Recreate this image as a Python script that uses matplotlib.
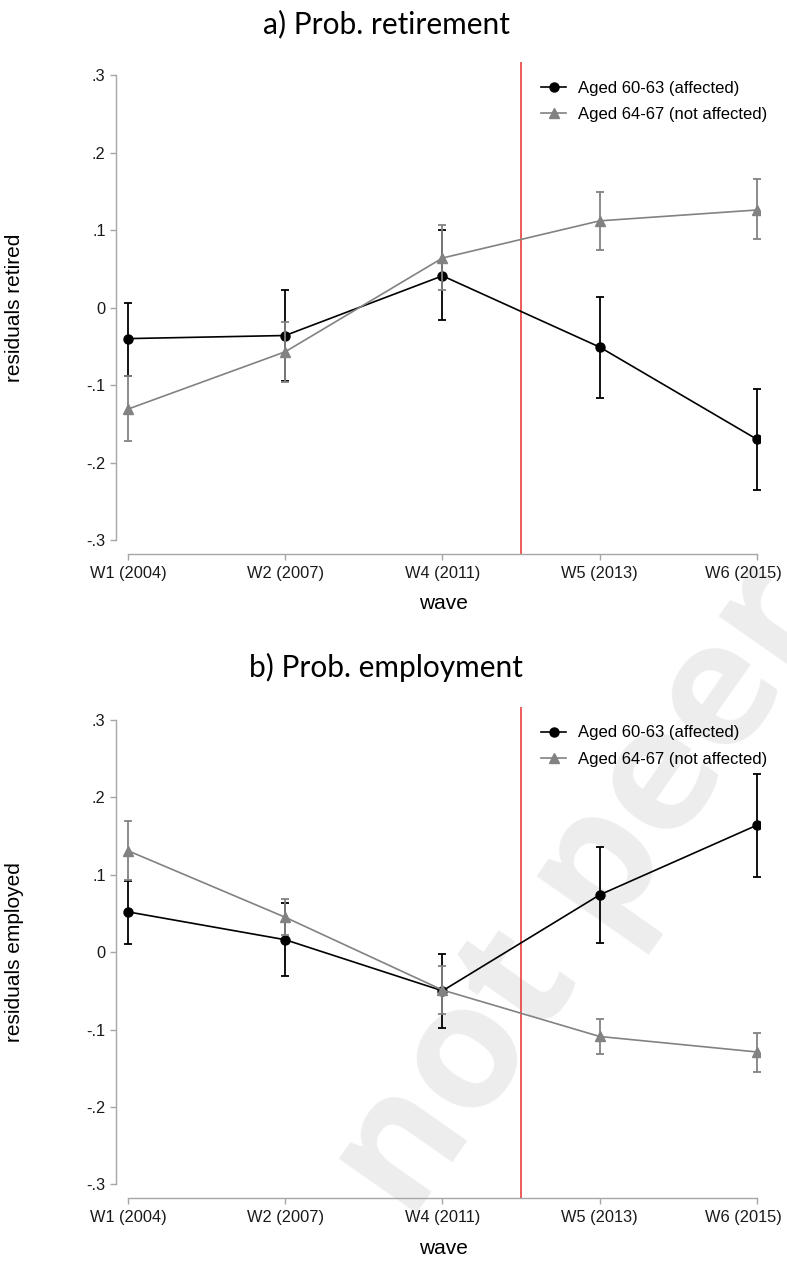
import numpy as np
import matplotlib
matplotlib.use('Agg')
import matplotlib.pyplot as plt
from matplotlib.transforms import ScaledTranslation

# waves on the x axis
waves = ['W1 (2004)', 'W2 (2007)', 'W4 (2011)', 'W5 (2013)', 'W6 (2015)']
ytick_vals = [-0.3, -0.2, -0.1, 0.0, 0.1, 0.2, 0.3]
ytick_labs = ['-.3', '-.2', '-.1', '0', '.1', '.2', '.3']
lab_young = 'Aged 60-63 (affected)'
lab_old = 'Aged 64-67 (not affected)'

# a) retirement residuals
ret_young = [-0.040, -0.036, 0.041, -0.051, -0.170]
ret_young_lo = [-0.088, -0.095, -0.016, -0.117, -0.236]
ret_young_hi = [0.006, 0.023, 0.100, 0.014, -0.105]
ret_old = [-0.131, -0.057, 0.064, 0.112, 0.126]
ret_old_lo = [-0.172, -0.096, 0.023, 0.075, 0.088]
ret_old_hi = [-0.088, -0.019, 0.106, 0.149, 0.166]

# b) employment residuals
emp_young = [0.052, 0.016, -0.050, 0.074, 0.164]
emp_young_lo = [0.010, -0.031, -0.098, 0.012, 0.097]
emp_young_hi = [0.092, 0.064, -0.002, 0.136, 0.230]
emp_old = [0.131, 0.045, -0.049, -0.109, -0.129]
emp_old_lo = [0.093, 0.022, -0.080, -0.131, -0.155]
emp_old_hi = [0.169, 0.068, -0.018, -0.086, -0.104]

reform = 2.5  # between W4 and W5

plt.rcParams['font.family'] = ['Liberation Sans', 'DejaVu Sans']

W, H = 787., 1262.
fig = plt.figure(figsize=(W/100, H/100), dpi=100)

# watermark behind everything
fig.text(410/W, 1 - 1224/H, 'not peer reviewed', ha='left', rotation=55,
         rotation_mode='anchor', va='baseline', fontsize=126, family='Open Sans',
         weight='bold', color='#ededed', zorder=-5)

spine_col = '#a6a6a6'
grey = '#828282'


def panel(rect, young, ylo, yhi, old, olo, ohi, ylab, title, title_y):
    ax = fig.add_axes(rect)
    ax.set_facecolor('none')
    x = np.arange(len(waves))
    young = np.array(young); old = np.array(old)
    ax.axvline(reform, color='#e8413c', lw=1.2, zorder=1)
    ax.errorbar(x, young, yerr=[young - np.array(ylo), np.array(yhi) - young],
                fmt='none', ecolor='black', elinewidth=1.3,
                capsize=3, capthick=1.3, zorder=3)
    ax.plot(x, young, '-o', color='black', ms=6.5, lw=1.2, label=lab_young, zorder=3)
    ax.errorbar(x, old, yerr=[old - np.array(olo), np.array(ohi) - old],
                fmt='none', ecolor=grey, elinewidth=1.3,
                capsize=3, capthick=1.3, zorder=4)
    ax.plot(x, old, '-^', color=grey, ms=6.5, lw=1.2, label=lab_old, zorder=4)
    ax.set_xlim(-0.076, 4.019)
    ax.set_ylim(-0.318, 0.317)
    ax.set_xticks(x)
    ax.set_xticklabels(waves)
    ax.set_yticks(ytick_vals)
    ax.set_yticklabels(ytick_labs)
    for s in ['top', 'right']:
        ax.spines[s].set_visible(False)
    ax.spines['left'].set_bounds(-0.3, 0.3)
    ax.spines['bottom'].set_bounds(0, 4)
    for s in ['left', 'bottom']:
        ax.spines[s].set_color(spine_col)
        ax.spines[s].set_linewidth(1.0)
    ax.tick_params(direction='out', length=4.5, width=1.0, color=spine_col,
                   labelsize=11.8, labelcolor='#1a1a1a')
    ax.tick_params(axis='x', pad=4)
    ax.tick_params(axis='y', pad=3)
    # last wave label pulled in so it fits
    last = ax.get_xticklabels()[-1]
    last.set_transform(last.get_transform() + ScaledTranslation(-0.14, 0, fig.dpi_scale_trans))
    ax.legend(loc='upper left', bbox_to_anchor=(0.660, 0.962), frameon=False,
              fontsize=12, handlelength=1.5, handletextpad=0.72,
              labelspacing=0.68, borderpad=0, borderaxespad=0)
    # labels
    b = rect[1]; h = rect[3]
    fig.text(15/W, b + h*0.318/0.635, ylab, rotation=90,
             ha='center', va='center', fontsize=15)
    fig.text(443/W, b - 50/H, 'wave', ha='center', va='center', fontsize=15)
    fig.text(386/W, 1 - title_y/H, title, ha='center', va='baseline',
             fontsize=21.5, family='Lato')
    return ax


panel([116/W, (H - 554)/H, 644/W, 492/H], ret_young, ret_young_lo, ret_young_hi,
      ret_old, ret_old_lo, ret_old_hi, 'residuals retired', 'a) Prob. retirement', 33)
panel([116/W, (H - 1198.3)/H, 644/W, 491.6/H], emp_young, emp_young_lo, emp_young_hi,
      emp_old, emp_old_lo, emp_old_hi, 'residuals employed', 'b) Prob. employment', 677)

fig.savefig('out.png', dpi=100)
